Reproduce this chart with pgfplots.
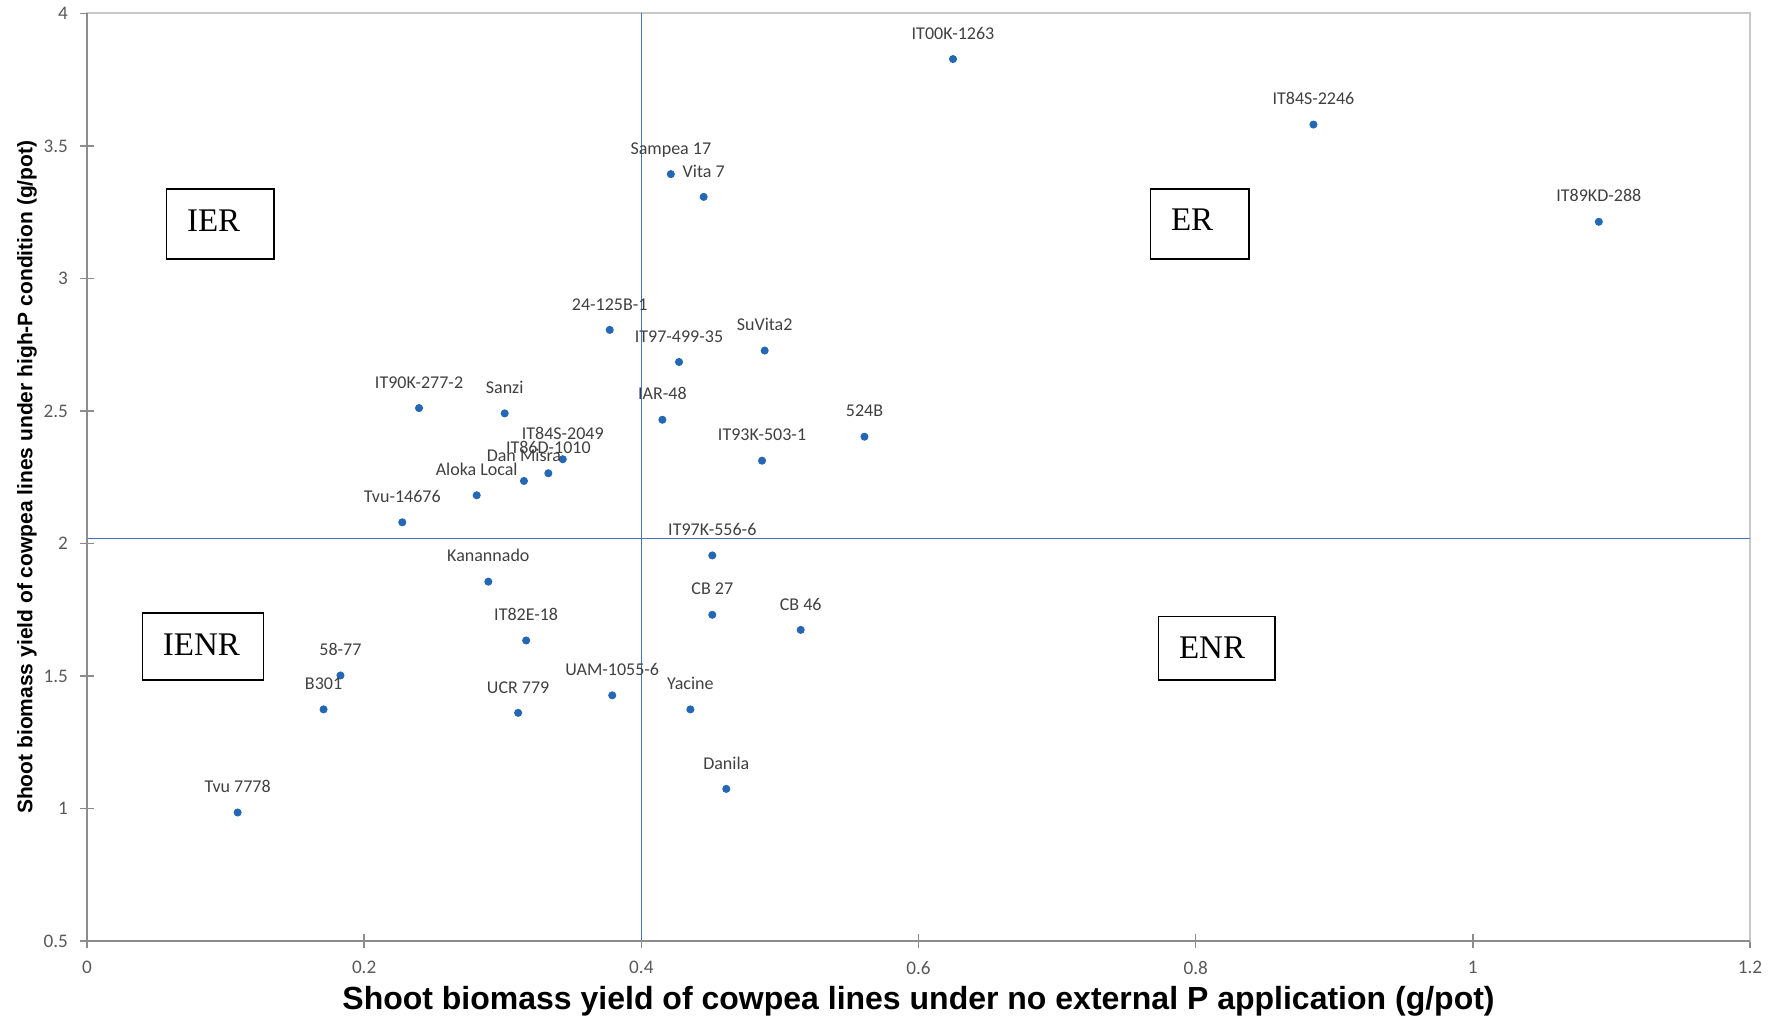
\documentclass[border=0pt]{standalone}
\usepackage{pgfplots}
\pgfplotsset{compat=1.18}
\usepackage{pgfplotstable}
\usepackage{fontspec}
\setmainfont{Carlito}
\newfontfamily\arialfont{Liberation Sans}
\newfontfamily\timesfont{Liberation Serif}

\definecolor{dotblue}{RGB}{36,103,180}
\definecolor{quadblue}{RGB}{68,114,196}
\definecolor{axisgray}{RGB}{140,140,140}
\definecolor{framegray}{RGB}{200,200,200}
\definecolor{ticktext}{RGB}{89,89,89}
\definecolor{labeltext}{RGB}{64,64,64}

% shoot biomass: no external P (x) vs high P (y), g/pot
\pgfplotstableread[col sep=comma]{
x,y,line
0.6249,3.828,IT00K-1263
0.885,3.581,IT84S-2246
1.0909,3.214,IT89KD-288
0.4213,3.394,Sampea 17
0.445,3.308,Vita 7
0.3772,2.806,24-125B-1
0.4272,2.685,IT97-499-35
0.489,2.728,SuVita2
0.2396,2.511,IT90K-277-2
0.3014,2.491,Sanzi
0.4152,2.467,IAR-48
0.561,2.403,524B
0.4871,2.3125,IT93K-503-1
0.3433,2.318,IT84S-2049
0.3329,2.265,IT86D-1010
0.3153,2.236,Dan Misra
0.2812,2.182,Aloka Local
0.2275,2.080,Tvu-14676
0.4512,1.955,IT97K-556-6
0.2896,1.856,Kanannado
0.4512,1.731,CB 27
0.515,1.674,CB 46
0.3169,1.634,IT82E-18
0.1829,1.502,58-77
0.1707,1.374,B301
0.379,1.427,UAM-1055-6
0.3111,1.361,UCR 779
0.4354,1.374,Yacine
0.4613,1.074,Danila
0.1087,0.985,Tvu 7778
}\cowpea

\begin{document}
\begin{tikzpicture}
\path[use as bounding box] (-43.5pt,-39pt) rectangle (843.5pt,470.5pt);
\begin{axis}[
  scale only axis,
  width=831.5pt, height=463.75pt,
  xmin=0, xmax=1.2, ymin=0.5, ymax=4,
  xtick={0,0.2,0.4,0.6,0.8,1,1.2},
  ytick={0.5,1,1.5,2,2.5,3,3.5,4},
  axis line style={framegray, line width=1pt},
  xtick pos=lower, ytick pos=left,
  tick align=center,
  major tick length=7pt,
  tick style={axisgray, line width=0.8pt},
  tick label style={font=\fontsize{9.6}{11}\selectfont, text=ticktext},
  xticklabel style={yshift=-3pt},
  yticklabel style={xshift=-2.5pt},
  /pgf/number format/assume math mode=true,
  xlabel={Shoot biomass yield of cowpea lines under no external P application (g/pot)},
  ylabel={Shoot biomass yield of cowpea lines under high-P condition (g/pot)},
  every axis x label/.style={at={(axis description cs:0.5,0)}, anchor=center, yshift=-30pt,
    font=\arialfont\bfseries\fontsize{16}{18}\selectfont},
  every axis y label/.style={at={(axis description cs:0,0.5)}, anchor=center, xshift=-30pt, rotate=90,
    font=\arialfont\bfseries\fontsize{10.5}{12}\selectfont},
  clip=false,
]
% quadrant dividers
\addplot[quadblue, line width=0.7pt, forget plot] coordinates {(0.4,0.5) (0.4,4)};
\addplot[quadblue, line width=0.7pt, forget plot] coordinates {(0,2.02) (1.2,2.02)};

% darker left and bottom axis lines
\draw[axisgray, line width=1pt] (rel axis cs:0,1) -- (rel axis cs:0,0) -- (rel axis cs:1,0);

% cowpea lines
\addplot[only marks, mark=*, mark size=1.8pt, mark options={fill=dotblue, draw=dotblue},
  point meta=explicit symbolic, nodes near coords,
  every node near coord/.append style={font=\fontsize{9}{10}\selectfont, text=labeltext,
    anchor=base, yshift=9.9pt, inner sep=0pt}]
  table[x=x, y=y, meta=line] {\cowpea};

% quadrant boxes
\draw[black, line width=0.75pt, fill=white] (axis cs:0.0575,3.073) rectangle (axis cs:0.1349,3.337);
\node[anchor=base west, inner sep=0pt, xshift=10pt, yshift=-21pt, font=\timesfont\fontsize{16.5}{18}\selectfont]
  at (axis cs:0.0575,3.337) {IER};
\draw[black, line width=0.75pt, fill=white] (axis cs:0.0401,1.485) rectangle (axis cs:0.1274,1.737);
\node[anchor=base west, inner sep=0pt, xshift=10pt, yshift=-21pt, font=\timesfont\fontsize{16.5}{18}\selectfont]
  at (axis cs:0.0401,1.737) {IENR};
\draw[black, line width=0.75pt, fill=white] (axis cs:0.7675,3.073) rectangle (axis cs:0.8386,3.338);
\node[anchor=base west, inner sep=0pt, xshift=10pt, yshift=-21pt, font=\timesfont\fontsize{16.5}{18}\selectfont]
  at (axis cs:0.7675,3.338) {ER};
\draw[black, line width=0.75pt, fill=white] (axis cs:0.7733,1.485) rectangle (axis cs:0.8573,1.724);
\node[anchor=base west, inner sep=0pt, xshift=10pt, yshift=-21pt, font=\timesfont\fontsize{16.5}{18}\selectfont]
  at (axis cs:0.7733,1.724) {ENR};
\end{axis}
\end{tikzpicture}
\end{document}
